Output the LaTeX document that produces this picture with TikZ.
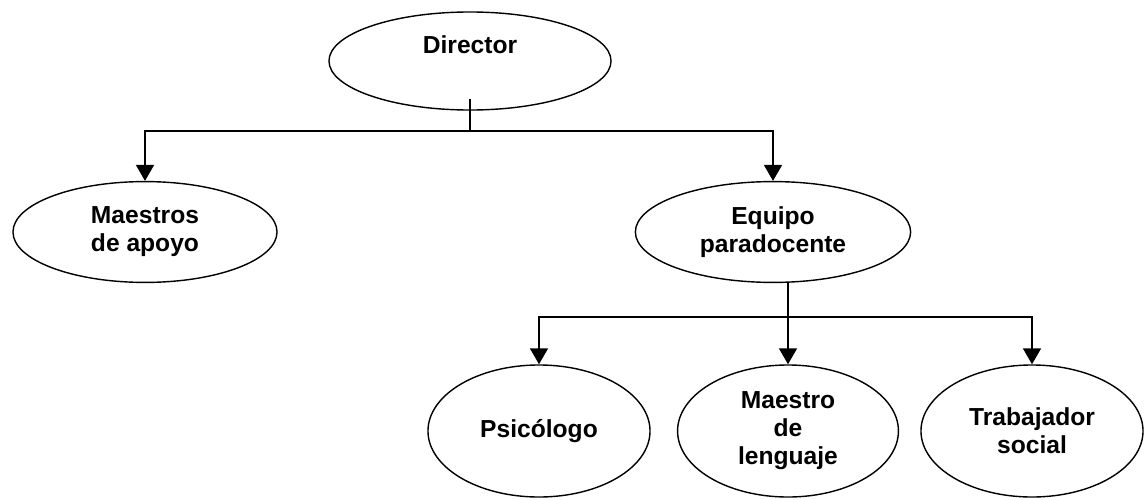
\documentclass[tikz,border=0pt]{standalone}
\usepackage{fontspec}
\setmainfont{Liberation Sans}
\usetikzlibrary{shapes.geometric,arrows.meta}

\tikzset{
	cargo/.style={draw, ellipse, line width=1pt, inner sep=0pt, align=center,
		font=\bfseries\fontsize{17.5}{20}\selectfont},
	flecha/.style={line width=1.2pt, -{Triangle[width=0.45cm, length=0.4cm]}}
}

\begin{document}
\begin{tikzpicture}[x=0.025cm, y=-0.025cm]
		\useasboundingbox (0, 0) rectangle (1146, 500);

		\node[cargo, minimum width=7.05cm, minimum height=2.45cm,
			text height=0.5cm, text depth=0.85cm] (dir) at (470, 61) {Director};

		\node[cargo, minimum width=6.6cm, minimum height=2.52cm] (apoyo) at (145, 232) {Maestros\\de apoyo};
		\node[cargo, minimum width=6.88cm, minimum height=2.52cm] (equipo) at (773, 232) {Equipo\\paradocente};

		\node[cargo, minimum width=5.55cm, minimum height=3.3cm] (psico) at (539, 431) {Psicólogo};
		\node[cargo, minimum width=5.52cm, minimum height=3.3cm] (lengua) at (788, 431) {Maestro\\de\\lenguaje};
		\node[cargo, minimum width=5.55cm, minimum height=3.3cm] (social) at (1032, 431) {Trabajador\\social};

		\coordinate (j1) at (470, 131);
		\coordinate (j2) at (788, 317);

		\draw[flecha] ([yshift=0.3cm]dir.south) -- (j1) -| (apoyo.north);
		\draw[flecha] (j1) -| (equipo.north);

		\draw[flecha] (j2 |- equipo.south) -- (lengua.north);
		\draw[flecha] (j2) -| (psico.north);
		\draw[flecha] (j2) -| (social.north);
	\end{tikzpicture}
\end{document}
